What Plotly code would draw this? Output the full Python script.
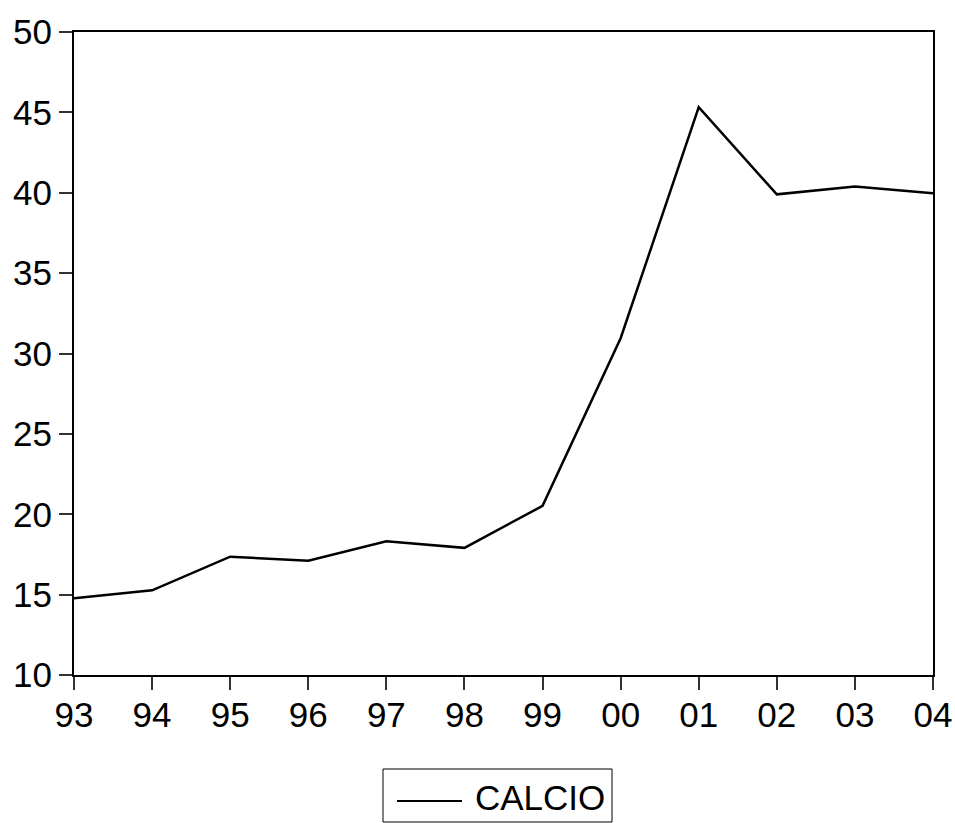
import plotly.graph_objects as go

years = [1993, 1994, 1995, 1996, 1997, 1998, 1999, 2000, 2001, 2002, 2003, 2004]
year_labels = ["93", "94", "95", "96", "97", "98", "99", "00", "01", "02", "03", "04"]
calcio = [14.77, 15.27, 17.36, 17.11, 18.32, 17.91, 20.52, 30.95, 45.33, 39.9, 40.39, 39.97]
y_ticks = [10, 15, 20, 25, 30, 35, 40, 45, 50]
series_name = "CALCIO"

W, H = 955, 823
L, R, T, B = 74, 22, 32, 148
plot_w = W - L - R
plot_h = H - T - B


def px_x(px):
    return (px - L) / plot_w


def px_y(py):
    return (H - B - py) / plot_h


fig = go.Figure()
fig.add_trace(go.Scatter(x=years, y=calcio, mode="lines", name=series_name,
                         line=dict(color="black", width=2.5), showlegend=False))

# custom legend box (EViews-style) below the plot
fig.add_shape(type="rect", xref="paper", yref="paper",
              x0=px_x(383), x1=px_x(612), y0=px_y(822), y1=px_y(769),
              line=dict(color="black", width=1), fillcolor="white")
fig.add_shape(type="line", xref="paper", yref="paper",
              x0=px_x(397), x1=px_x(462), y0=px_y(801), y1=px_y(801),
              line=dict(color="black", width=2))
fig.add_annotation(text=series_name, xref="paper", yref="paper",
                   x=px_x(473), y=px_y(797), xanchor="left", yanchor="middle",
                   showarrow=False, font=dict(size=35, color="black"))

fig.update_layout(
    width=W, height=H,
    margin=dict(l=L, r=R, t=T, b=B, autoexpand=False),
    paper_bgcolor="white", plot_bgcolor="white",
    font=dict(family="Liberation Sans, Arial, sans-serif", size=35, color="black"),
    showlegend=False,
    xaxis=dict(range=[1993, 2004], tickvals=years, ticktext=year_labels,
               showline=True, linecolor="black", linewidth=2, mirror=True,
               ticks="outside", ticklen=13, tickwidth=2, tickcolor="#333",
               ticklabelstandoff=-5,
               showgrid=False, zeroline=False),
    yaxis=dict(range=[10, 50], tickvals=y_ticks,
               showline=True, linecolor="black", linewidth=2, mirror=True,
               ticks="outside", ticklen=13, tickwidth=2, tickcolor="#333",
               showgrid=False, zeroline=False),
)

fig.write_html("out.html")
